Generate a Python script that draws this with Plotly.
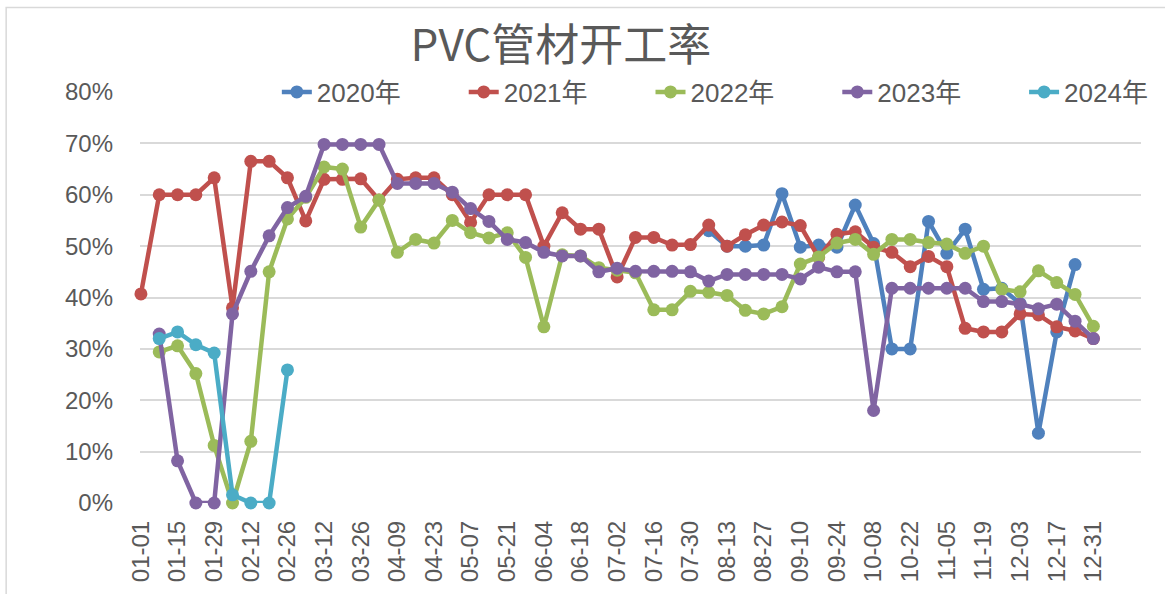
import plotly.graph_objects as go

categories = ["01-01","01-08","01-15","01-22","01-29","02-05","02-12","02-19","02-26","03-05",
              "03-12","03-19","03-26","04-02","04-09","04-16","04-23","04-30","05-07","05-14",
              "05-21","05-28","06-04","06-11","06-18","06-25","07-02","07-09","07-16","07-23",
              "07-30","08-06","08-13","08-20","08-27","09-03","09-10","09-17","09-24","10-01",
              "10-08","10-15","10-22","10-29","11-05","11-12","11-19","11-26","12-03","12-10",
              "12-17","12-24","12-31"]

N = None
y2020 = [N]*31 + [53, 50, 50, 50.2, 60.2, 49.8, 50.2, 49.8, 58, 50.5,
                  30, 30, 54.8, 48.6, 53.3, 41.6, 41.8, 38.8, 13.6, 33.3, 46.4, N]

y2021 = [40.7, 60, 60, 60, 63.3, 38, 66.5, 66.5, 63.3, 54.9,
         63, 63, 63.1, 59, 63, 63.3, 63.3, 60, 54.6, 60,
         60, 60, 50, 56.5, 53.3, 53.3, 44, 51.7, 51.7, 50.2,
         50.3, 54.1, 50, 52.2, 54.1, 54.7, 54, 47.8, 52.3, 52.8,
         49.8, 48.8, 46, 48, 46, 34, 33.3, 33.3, 36.8, 36.6,
         34.3, 33.5, 32]

y2022 = [N, 29.4, 30.6, 25.2, 11.2, 0, 12, 45, 55.3, 59.5,
         65.4, 65, 53.7, 59, 48.8, 51.3, 50.6, 55, 52.6, 51.6,
         52.6, 47.8, 34.3, 48.3, 48.1, 45.8, 45.3, 44.8, 37.6, 37.6,
         41.2, 41, 40.4, 37.5, 36.8, 38.2, 46.5, 47.9, 50.6, 51.3,
         48.4, 51.3, 51.3, 50.7, 50.4, 48.6, 50, 41.6, 41.1, 45.2,
         42.9, 40.6, 34.4]

y2023 = [N, 32.9, 8.2, 0, 0, 36.8, 45.1, 52, 57.5, 59.7,
         69.8, 69.8, 69.8, 69.8, 62.2, 62.2, 62.2, 60.5, 57.3, 54.8,
         51.3, 50.7, 48.8, 48.1, 48.1, 45, 45.7, 45.1, 45.1, 45.1,
         45, 43.2, 44.5, 44.5, 44.5, 44.5, 43.6, 45.9, 45, 45,
         18, 41.8, 41.8, 41.8, 41.8, 41.8, 39.2, 39.2, 38.7, 37.8,
         38.7, 35.4, 32]

y2024 = [N, 32, 33.3, 30.8, 29.2, 1.6, 0, 0, 25.9] + [N]*44

series_names = ["2020年", "2021年", "2022年", "2023年", "2024年"]
series_values = [y2020, y2021, y2022, y2023, y2024]
series_colors = ["#4F81BD", "#C0504D", "#9BBB59", "#8064A2", "#4BACC6"]

y_ticks = [0, 10, 20, 30, 40, 50, 60, 70, 80]

FONT = "Liberation Sans, Noto Sans CJK SC, sans-serif"
TXT = "#595959"

legend_ids = ["legend", "legend2", "legend3", "legend4", "legend5"]
legend_x = [0.1367, 0.3234, 0.5100, 0.6966, 0.8832]

fig = go.Figure()
for name, vals, col, lid in zip(series_names, series_values, series_colors, legend_ids):
    fig.add_trace(go.Scatter(
        x=categories, y=vals, name=name, mode="lines+markers",
        line=dict(color=col, width=4.5),
        marker=dict(color=col, size=13),
        cliponaxis=False, connectgaps=False, legend=lid, showlegend=True,
    ))

legend_style = dict(orientation="h", y=1.0, xanchor="left", yanchor="middle",
                    bgcolor="rgba(0,0,0,0)", itemwidth=30, visible=True,
                    font=dict(size=26, color=TXT, family=FONT))
legends = {lid: dict(x=lx, **legend_style) for lid, lx in zip(legend_ids, legend_x)}

fig.update_layout(
    width=1165, height=594, showlegend=True,
    margin=dict(l=140, r=23, t=92, b=89),
    paper_bgcolor="white", plot_bgcolor="white",
    font=dict(family=FONT, color=TXT, size=22),
    title=dict(text="PVC管材开工率", xref="container", yref="container",
               x=0.4815, y=0.924, xanchor="center", yanchor="middle",
               font=dict(family="Noto Sans CJK SC, Liberation Sans", size=44, color=TXT)),
    xaxis=dict(type="category", range=[-0.05, 54.6], tickmode="array",
               tickvals=categories[::2], ticktext=categories[::2], tickangle=-90,
               showgrid=False, showline=False, ticks="", zeroline=False,
               ticklabelstandoff=12,
               tickfont=dict(size=24, color=TXT, family=FONT)),
    yaxis=dict(range=[0, 80], tickmode="array", tickvals=y_ticks,
               ticktext=[f"{v}%" for v in y_ticks], showgrid=True,
               gridcolor="#D9D9D9", gridwidth=2, zeroline=False, showline=False,
               ticks="", ticklabelstandoff=26,
               tickfont=dict(size=24, color=TXT, family=FONT)),
    shapes=[dict(type="rect", xref="paper", yref="paper",
                 x0=-0.1337, x1=1.3, y0=-0.6, y1=1.2058,
                 line=dict(color="#D9D9D9", width=1.5), fillcolor="rgba(0,0,0,0)",
                 layer="below")],
    **legends,
)

fig.write_html("out.html", config={"displayModeBar": False},
               post_script="document.body.style.margin='0';")
